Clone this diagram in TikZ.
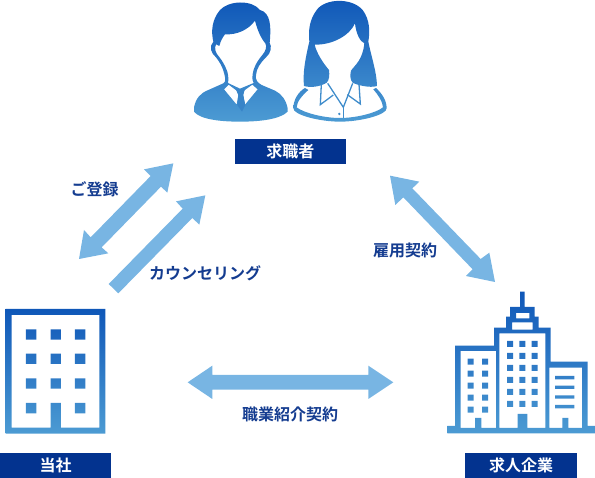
\documentclass[tikz,border=0pt]{standalone}
\usepackage{fontspec}
\setmainfont{Noto Sans CJK JP}[BoldFont={Noto Sans CJK JP Bold}]
\definecolor{topblue}{HTML}{0F57B8}
\definecolor{botblue}{HTML}{4C9BD3}
\definecolor{midblue}{HTML}{3F8CCB}
\definecolor{arrowblue}{HTML}{78B5E3}
\definecolor{navy}{HTML}{03338F}
\definecolor{labelblue}{HTML}{143C90}
\tikzset{
  grad/.style={top color=topblue,bottom color=botblue,shading angle=0,draw=none},
  arrowshape/.style={fill=arrowblue,draw=none},
  tagbox/.style={text=white,font=\bfseries\fontsize{16}{18}\selectfont,inner sep=0pt,anchor=center},
  lbl/.style={text=labelblue,font=\bfseries\fontsize{16}{18}\selectfont,inner sep=0pt,anchor=center},
  zoomed/.style={x=0.33333pt,y=-0.33333pt},
  thinline/.style={draw=midblue,line width=1.3pt,line join=miter,fill=none}
}
\begin{document}
\begin{tikzpicture}[x=1pt,y=-1pt]
\useasboundingbox (0,0) rectangle (595,478);
% man
\begin{scope}[shift={(180,0)},zoomed]
\shade[grad,even odd rule]
 (42,322) .. controls (48,295) and (60,280) .. (85,270) -- (130,250) .. controls (138,246) and (136,235) .. (133,222) .. controls (128,200) and (118,185) .. (108,172) .. controls (93,160) and (86,140) .. (100,125) .. controls (93,95) and (95,60) .. (120,30) .. controls (145,2) and (215,-2) .. (240,30) .. controls (272,38) and (274,80) .. (269,128) .. controls (276,140) and (273,160) .. (258,172) .. controls (240,190) and (230,205) .. (228,225) .. controls (226,240) and (232,248) .. (245,255) -- (285,272) .. controls (305,282) and (318,300) .. (323,325) -- (323,335) .. controls (300,358) and (240,365) .. (180,365) .. controls (120,365) and (60,358) .. (42,335) -- cycle
 (118,138) .. controls (122,122) and (128,112) .. (135,103) .. controls (170,105) and (205,90) .. (225,62) .. controls (232,90) and (243,115) .. (256,130) .. controls (262,140) and (256,155) .. (247,165) .. controls (230,185) and (220,205) .. (218,222) .. controls (216,238) and (218,245) .. (221,249) -- (180,266) -- (144,249) .. controls (146,240) and (145,225) .. (142,215) .. controls (135,195) and (125,180) .. (117,170) .. controls (107,160) and (102,145) .. (108,133) -- cycle
 (132,268) -- (146,254) -- (170,272) -- (175,285) -- (170,314) -- cycle
 (192,272) -- (217,254) -- (233,268) -- (195,314) -- (190,285) -- cycle;
\end{scope}
% woman
\begin{scope}[shift={(180,0)},zoomed]
\shade[grad]
 (372,258) .. controls (368,220) and (375,180) .. (388,125) .. controls (385,90) and (388,60) .. (410,30) .. controls (435,-5) and (515,-8) .. (548,30) .. controls (570,60) and (570,95) .. (565,125) .. controls (575,175) and (590,215) .. (591,258) .. controls (570,265) and (530,255) .. (518,248) .. controls (510,240) and (510,225) .. (513,212) .. controls (525,195) and (548,180) .. (553,130) .. controls (540,125) and (528,100) .. (525,70) .. controls (510,105) and (460,135) .. (404,134) .. controls (410,160) and (430,190) .. (447,210) .. controls (449,225) and (448,240) .. (440,248) .. controls (425,258) and (395,265) .. (372,258) -- cycle
 (375,264) .. controls (355,275) and (340,300) .. (340,325) .. controls (340,345) and (420,365) .. (480,365) .. controls (540,365) and (620,345) .. (620,325) .. controls (620,300) and (605,280) .. (588,264) -- (580,268) .. controls (595,285) and (608,305) .. (609,322) .. controls (590,338) and (530,354) .. (480,354) .. controls (430,354) and (370,338) .. (350,322) .. controls (350,305) and (368,285) .. (385,270) -- cycle;
\draw[thinline] (424,253) -- (421,314) -- (460,285);
\draw[thinline] (443,250) -- (490,322) -- (518,250);
\draw[thinline] (490,322) -- (490,354);
\draw[thinline] (537,252) -- (541,312) -- (502,284);
\fill[midblue] (478,342) circle (4);
\end{scope}
% tie
\begin{scope}[shift={(180,0)},zoomed]
\fill[midblue!85!topblue] (168,268) -- (195,268) -- (189,285) -- (196,315) -- (186,335) -- (172,315) -- (175,285) -- cycle;
\end{scope}
% left building
\begin{scope}[shift={(0,300)},zoomed]
\shade[grad,even odd rule]
 (17,27) rectangle (316,401)
 (35,45) -- (298,45) -- (298,383) -- (183,383) -- (183,309) -- (152,309) -- (152,383) -- (35,383) -- cycle
 (78,88) rectangle ++(31,31) (152,88) rectangle ++(31,31) (225,88) rectangle ++(31,31)
 (78,161) rectangle ++(31,31) (152,161) rectangle ++(31,31) (225,161) rectangle ++(31,31)
 (78,235) rectangle ++(31,31) (152,235) rectangle ++(31,31) (225,235) rectangle ++(31,31)
 (78,309) rectangle ++(31,31) (225,309) rectangle ++(31,31);
\end{scope}
% right building
\begin{scope}[shift={(440,285)},zoomed]
\shade[grad,even odd rule]
 (45,423) -- (45,182) -- (162,182) -- (162,128) -- (198,128) -- (198,95) -- (210,95) -- (210,66) -- (240,66) -- (240,20) -- (254,20) -- (254,66) -- (284,66) -- (284,95) -- (296,95) -- (296,128) -- (332,128) -- (332,230) -- (443,230) -- (443,423) -- (465,423) -- (465,445) -- (22,445) -- (22,423) -- cycle
 (216,112) rectangle (278,134)
 (228,84) rectangle (268,100)
 (62,198) -- (168,198) -- (168,429) -- (124,429) -- (124,399) -- (105,399) -- (105,429) -- (62,429) -- cycle
 (178,145) -- (316,145) -- (316,429) -- (262,429) -- (262,387) -- (233,387) -- (233,429) -- (178,429) -- cycle
 (328,248) -- (426,248) -- (426,429) -- (385,429) -- (385,399) -- (367,399) -- (367,429) -- (328,429) -- cycle
 (201,168) rectangle ++(18,18) (238,168) rectangle ++(18,18) (275,168) rectangle ++(18,18)
 (201,204) rectangle ++(18,18) (238,204) rectangle ++(18,18) (275,204) rectangle ++(18,18)
 (201,240) rectangle ++(18,18) (238,240) rectangle ++(18,18) (275,240) rectangle ++(18,18)
 (201,276) rectangle ++(18,18) (238,276) rectangle ++(18,18) (275,276) rectangle ++(18,18)
 (201,312) rectangle ++(18,18) (238,312) rectangle ++(18,18) (275,312) rectangle ++(18,18)
 (201,348) rectangle ++(18,18) (238,348) rectangle ++(18,18) (275,348) rectangle ++(18,18)
 (83,221) rectangle ++(18,18) (126,221) rectangle ++(18,18)
 (83,257) rectangle ++(18,18) (126,257) rectangle ++(18,18)
 (83,293) rectangle ++(18,18) (126,293) rectangle ++(18,18)
 (83,329) rectangle ++(18,18) (126,329) rectangle ++(18,18)
 (83,365) rectangle ++(18,18) (126,365) rectangle ++(18,18)
 (345,273) rectangle (403,283) (345,302) rectangle (403,312) (345,331) rectangle (403,341) (345,360) rectangle (403,370);
\end{scope}
% arrows
\begin{scope}[shift={(60,160)},zoomed]
\fill[arrowshape] (340,10) -- (252,28) -- (272,48) -- (92,232) -- (72,210) -- (57,297) -- (145,280) -- (125,262) -- (303,80) -- (322,98) -- cycle;
\fill[arrowshape] (436,106) -- (348,124) -- (368,146) -- (146,372) -- (175,400) -- (397,174) -- (418,194) -- cycle;
\end{scope}
\begin{scope}[shift={(360,160)},zoomed]
\fill[arrowshape] (90,47) -- (178,65) -- (157,85) -- (362,297) -- (388,278) -- (405,366) -- (318,348) -- (338,328) -- (130,112) -- (106,135) -- cycle;
\end{scope}
\begin{scope}[shift={(180,355)},zoomed]
\fill[arrowshape] (23,82) -- (97,32) -- (97,60) -- (565,60) -- (565,32) -- (640,82) -- (565,132) -- (565,104) -- (97,104) -- (97,132) -- cycle;
\end{scope}
% tags
\fill[navy] (234.7,139) rectangle (346,163.7);
\fill[navy] (0,453) rectangle (111,478);
\fill[navy] (465.3,453) rectangle (577,478);
\node[tagbox] (seeker) at (290.4,151) {求職者};
\node[tagbox] (us) at (55.5,465.5) {当社};
\node[tagbox] (firm) at (521,465.5) {求人企業};
% labels
\node[lbl] (reg) at (94.5,189.5) {ご登録};
\node[lbl] (coun) at (205,273.5) {カウンセリング};
\node[lbl] (hire) at (405,250) {雇用契約};
\node[lbl] (intro) at (290,414) {職業紹介契約};
\end{tikzpicture}
\end{document}
